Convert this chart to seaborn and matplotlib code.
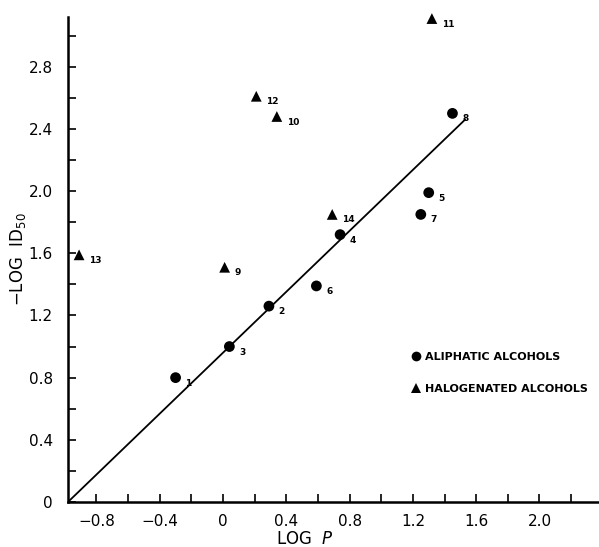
import matplotlib
matplotlib.use("Agg")
import matplotlib.pyplot as plt
import seaborn as sns
import pandas as pd
import numpy as np

# ---- data ----
aliph_ids = ["1", "2", "3", "4", "5", "6", "7", "8"]
aliph_logp = [-0.30, 0.29, 0.04, 0.74, 1.30, 0.59, 1.25, 1.45]
aliph_logid = [0.80, 1.26, 1.00, 1.72, 1.99, 1.39, 1.85, 2.50]

halo_ids = ["9", "10", "11", "12", "13", "14"]
halo_logp = [0.01, 0.34, 1.32, 0.21, -0.91, 0.69]
halo_logid = [1.51, 2.48, 3.11, 2.61, 1.59, 1.85]

group_names = ["ALIPHATIC ALCOHOLS", "HALOGENATED ALCOHOLS"]

fit_x = [-0.97, 1.53]
fit_y = [0.01, 2.46]

x_ticks = [-0.8, -0.4, 0, 0.4, 0.8, 1.2, 1.6, 2.0]
x_tick_labels = ["\u22120.8", "\u22120.4", "0", "0.4", "0.8", "1.2", "1.6", "2.0"]
y_ticks = [0, 0.4, 0.8, 1.2, 1.6, 2.0, 2.4, 2.8]
y_tick_labels = ["0", "0.4", "0.8", "1.2", "1.6", "2.0", "2.4", "2.8"]

df = pd.DataFrame({
    "id": aliph_ids + halo_ids,
    "logp": aliph_logp + halo_logp,
    "logid": aliph_logid + halo_logid,
    "group": [group_names[0]] * len(aliph_ids) + [group_names[1]] * len(halo_ids),
})

sns.set_theme(style="ticks")
plt.rcParams["font.family"] = ["DejaVu Sans"]
plt.rcParams.update({"text.color": "black", "axes.labelcolor": "black",
                     "xtick.color": "black", "ytick.color": "black"})

fig = plt.figure(figsize=(5.99, 5.47), dpi=100)
ax = fig.add_axes([68 / 599, 1 - 502 / 547, 530 / 599, 485 / 547])

sns.lineplot(x=fit_x, y=fit_y, ax=ax, color="black", linewidth=1.3)
sns.scatterplot(data=df, x="logp", y="logid", style="group",
                markers={group_names[0]: "o", group_names[1]: "^"},
                color="black", s=60, edgecolor="black", linewidth=0,
                ax=ax, legend=True, zorder=3, clip_on=False)

for _, r in df.iterrows():
    ax.annotate(r["id"], (r["logp"], r["logid"]), xytext=(7, -4),
                textcoords="offset points", ha="left", va="center",
                fontsize=6.5, fontweight="bold", color="black",
                annotation_clip=False)

ax.set_xlim(-0.98, 2.37)
ax.set_ylim(0, 3.12)
ax.set_xticks(x_ticks)
ax.set_xticklabels(x_tick_labels, fontsize=11)
ax.set_yticks(y_ticks)
ax.set_yticklabels(y_tick_labels, fontsize=11)
ax.set_xticks(np.arange(-0.6, 2.3, 0.4), minor=True)
ax.set_yticks(np.arange(0.2, 3.1, 0.4), minor=True)
ax.tick_params(which="both", direction="in", length=6, width=1.2, color="black",
               labelcolor="black")
ax.tick_params(axis="x", which="major", pad=9)
ax.tick_params(axis="y", which="major", pad=11)

for s in ["top", "right"]:
    ax.spines[s].set_visible(False)
for s in ["left", "bottom"]:
    ax.spines[s].set_linewidth(1.8)
    ax.spines[s].set_color("black")

ax.set_xlabel("LOG  $\\it{P}$", fontsize=12)
ax.set_ylabel("\u2212LOG  ID$_{50}$", fontsize=12)
ax.xaxis.set_label_coords(0.447, -0.058)
ax.yaxis.set_label_coords(-0.075, 0.50)

handles, labels = ax.get_legend_handles_labels()
leg = ax.legend(handles=handles, labels=labels, frameon=False,
                loc="upper left", bbox_to_anchor=(0.627, 0.33),
                handletextpad=0.35, labelspacing=1.95, handlelength=1.0,
                prop={"weight": "bold", "size": 8})
for h in leg.legend_handles:
    if hasattr(h, "set_markersize"):
        h.set_markersize(7)

fig.savefig("out.png", dpi=100)
